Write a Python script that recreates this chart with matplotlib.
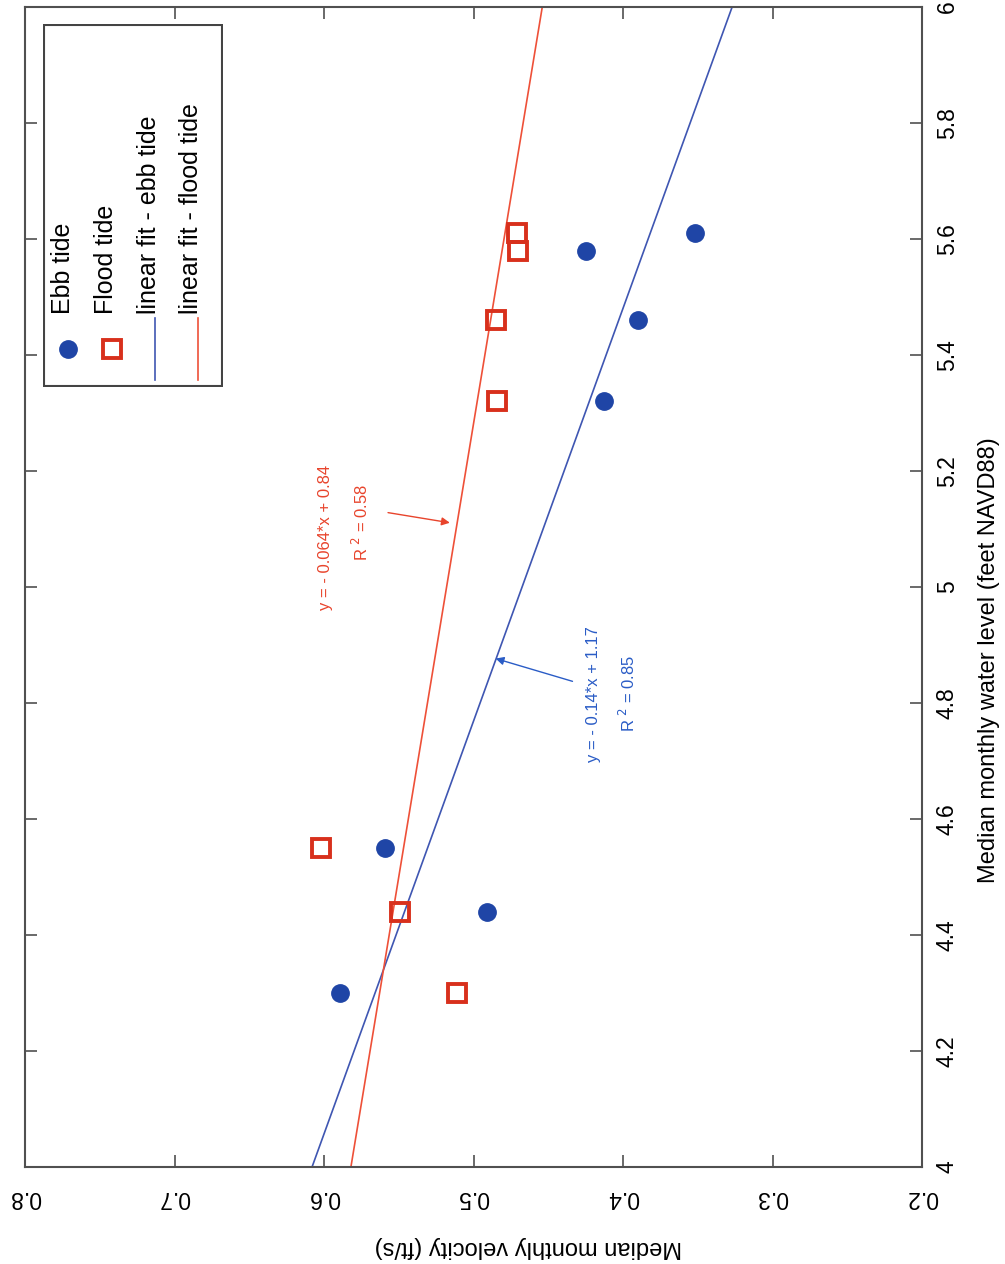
import numpy as np
import matplotlib
matplotlib.use('Agg')
import matplotlib.pyplot as plt
from matplotlib.patches import Rectangle

plt.rcParams['font.family'] = ['Liberation Sans', 'DejaVu Sans']

# water level (feet NAVD88) and median velocity (ft/s)
level = [4.30, 4.44, 4.55, 5.32, 5.46, 5.58, 5.61]
vel_ebb = [0.589, 0.491, 0.559, 0.413, 0.390, 0.425, 0.352]
vel_flood = [0.511, 0.549, 0.602, 0.484, 0.485, 0.470, 0.471]

# linear fits (slope, intercept)
fit_range = [4, 6]
fit_ebb = [-0.1405, 1.170]
fit_flood = [-0.064, 0.838]

eq_ebb = 'y = - 0.14*x + 1.17'
r2_ebb = 'R $^{2}$ = 0.85'
eq_flood = 'y = - 0.064*x + 0.84'
r2_flood = 'R $^{2}$ = 0.58'

legend_labels = ['Ebb tide', 'Flood tide', 'linear fit - ebb tide', 'linear fit - flood tide']

c_ebb = '#1f45a6'
c_flood = '#d8301c'
c_line_ebb = '#3f56b2'
c_line_flood = '#ee5038'
c_txt_ebb = '#2a5cc6'
c_txt_flood = '#e8442c'
c_frame = '#505050'

W, H = 1005, 1264
fig = plt.figure(figsize=(W / 100, H / 100), dpi=100)
ax = fig.add_axes([25 / W, 1 - 1167 / H, 897 / W, 1160 / H])

# chart is drawn turned a quarter turn: velocity runs right->left, level bottom->top
fx = np.array(fit_range, dtype=float)
ax.plot(np.polyval(fit_ebb, fx), fx, color=c_line_ebb, lw=1.2)
ax.plot(np.polyval(fit_flood, fx), fx, color=c_line_flood, lw=1.2)
ax.plot(vel_ebb, level, 'o', ms=12.5, color=c_ebb, mec=c_ebb, zorder=3)
ax.plot(vel_flood, level, 's', ms=13, mfc='none', mec=c_flood, mew=2.8, zorder=3)

ax.set_xlim(0.8, 0.2)
ax.set_ylim(4, 6)
ax.set_xticks([0.8, 0.7, 0.6, 0.5, 0.4, 0.3, 0.2])
ax.set_xticklabels(['0.8', '0.7', '0.6', '0.5', '0.4', '0.3', '0.2'], rotation=180)
ax.set_yticks([4, 4.2, 4.4, 4.6, 4.8, 5, 5.2, 5.4, 5.6, 5.8, 6])
ax.set_yticklabels(['4', '4.2', '4.4', '4.6', '4.8', '5', '5.2', '5.4', '5.6', '5.8', '6'],
                   rotation=90, va='center')
ax.tick_params(direction='in', top=True, right=True, left=True, bottom=True,
               labelleft=False, labelright=True, length=8.5, width=1.2,
               color=c_frame, labelsize=16.5)
ax.tick_params(axis='x', pad=14)
ax.tick_params(axis='y', pad=10)
for s in ax.spines.values():
    s.set_color(c_frame)
    s.set_linewidth(1.5)

ax.set_xlabel('Median monthly velocity (ft/s)', fontsize=17, rotation=180, va='center')
ax.xaxis.set_label_coords(0.561, -0.069)
ax.yaxis.set_label_position('right')
ax.set_ylabel('Median monthly water level (feet NAVD88)', fontsize=17, rotation=90,
              va='center', ha='center')
ax.yaxis.set_label_coords(1.0747, 0.437)

# fit annotations
ax.text(0.599, 5.086, eq_flood, rotation=90, color=c_txt_flood, fontsize=12,
        ha='center', va='center')
ax.text(0.575, 5.112, r2_flood, rotation=90, color=c_txt_flood, fontsize=12,
        ha='center', va='center')
ax.annotate('', xy=(0.514, 5.110), xytext=(0.559, 5.129),
            arrowprops=dict(arrowstyle='-|>', color=c_txt_flood, lw=1.0,
                            mutation_scale=12))
ax.text(0.420, 4.816, eq_ebb, rotation=90, color=c_txt_ebb, fontsize=12,
        ha='center', va='center')
ax.text(0.397, 4.817, r2_ebb, rotation=90, color=c_txt_ebb, fontsize=12,
        ha='center', va='center')
ax.annotate('', xy=(0.487, 4.878), xytext=(0.432, 4.836),
            arrowprops=dict(arrowstyle='-|>', color=c_txt_ebb, lw=1.0,
                            mutation_scale=12))

# legend, turned with the chart (pixel units inside the box)
lw_, lh_ = 180, 363
lg = fig.add_axes([43 / W, 1 - 387 / H, lw_ / W, lh_ / H])
lg.set_xlim(0, lw_)
lg.set_ylim(lh_, 0)
lg.axis('off')
lg.add_patch(Rectangle((1, 1), lw_ - 2, lh_ - 2, fill=False, ec='#444444', lw=1.5))
cols = [20, 63, 106, 148]
lg.plot(cols[0] + 5, 325, 'o', ms=12.5, color=c_ebb)
lg.plot(cols[1] + 6, 325, 's', ms=13, mfc='none', mec=c_flood, mew=2.8)
lg.plot([cols[2] + 6, cols[2] + 6], [294, 356], color=c_line_ebb, lw=1.2)
lg.plot([cols[3] + 7, cols[3] + 7], [294, 356], color=c_line_flood, lw=1.2)
for cx, lab in zip(cols, legend_labels):
    lg.text(cx, 290, lab, rotation=90, fontsize=18, ha='center', va='bottom')

fig.savefig('out.png', dpi=100)
